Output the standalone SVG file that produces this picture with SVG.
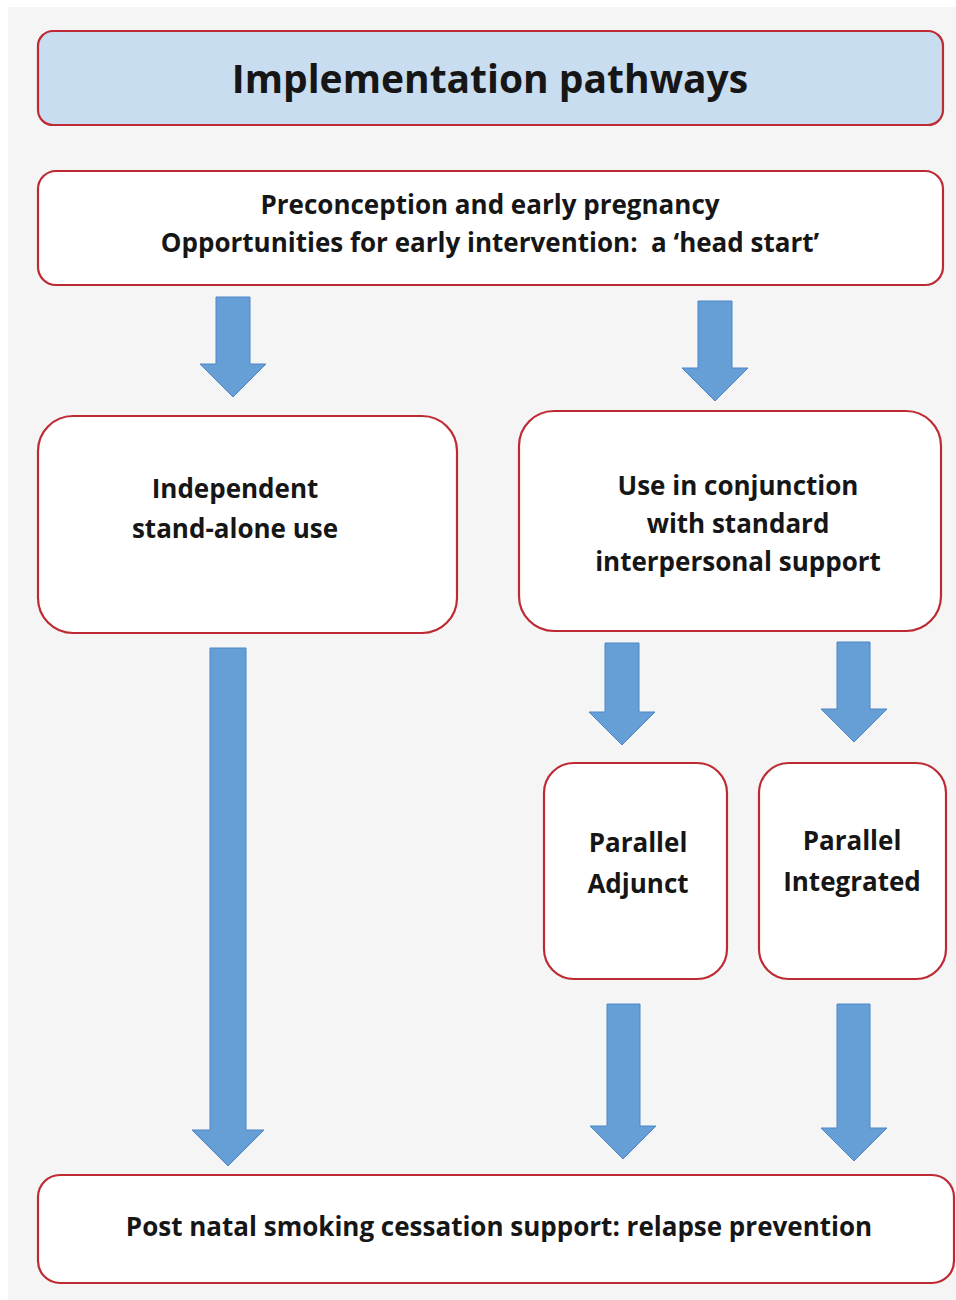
<svg xmlns="http://www.w3.org/2000/svg" width="956" height="1300" viewBox="0 0 956 1300">
<style>
.box{fill:#ffffff;stroke:#be2a33;stroke-width:2.2}
.title{fill:#c9ddf0;stroke:#be2a33;stroke-width:2.2}
.arrow{fill:#659fd6;stroke:#4f86c6;stroke-width:1}
text{font-family:"Open Sans","Liberation Sans",sans-serif;font-weight:bold;fill:#161616;text-anchor:middle;font-variant-ligatures:none;white-space:pre}
.t1{font-size:39px}
.t2{font-size:26px}
</style>
<rect x="0" y="0" width="956" height="1300" fill="#ffffff"/>
<rect x="8" y="7" width="948" height="1293" fill="#f5f5f5"/>
<g id="title">
<rect class="title" x="38" y="31" width="905" height="94" rx="15"/>
<text class="t1" x="490" y="93">Implementation pathways</text>
</g>
<g id="preconception">
<rect class="box" x="38" y="171" width="905" height="114" rx="18"/>
<text class="t2" x="490" y="214">Preconception and early pregnancy</text>
<text class="t2" x="490" y="252" xml:space="preserve">Opportunities for early intervention:  a ‘head start’</text>
</g>
<g id="independent">
<rect class="box" x="38" y="416" width="419" height="217" rx="35"/>
<text class="t2" x="235" y="498">Independent</text>
<text class="t2" x="235" y="538">stand-alone use</text>
</g>
<g id="conjunction">
<rect class="box" x="519" y="411" width="422" height="220" rx="35"/>
<text class="t2" x="738" y="495">Use in conjunction</text>
<text class="t2" x="738" y="533">with standard</text>
<text class="t2" x="738" y="571">interpersonal support</text>
</g>
<g id="adjunct">
<rect class="box" x="544" y="763" width="183" height="216" rx="30"/>
<text class="t2" x="638" y="852">Parallel</text>
<text class="t2" x="638" y="893">Adjunct</text>
</g>
<g id="integrated">
<rect class="box" x="759" y="763" width="187" height="216" rx="30"/>
<text class="t2" x="852" y="850">Parallel</text>
<text class="t2" x="852" y="891">Integrated</text>
</g>
<g id="postnatal">
<rect class="box" x="38" y="1175" width="916" height="108" rx="22"/>
<text class="t2" x="499" y="1236">Post natal smoking cessation support: relapse prevention</text>
</g>
<g id="connectors">
<polygon class="arrow" points="216,297 250,297 250,364 266,364 233,397 200,364 216,364"/>
<polygon class="arrow" points="698,301 732,301 732,368 748,368 715,401 682,368 698,368"/>
<polygon class="arrow" points="210,648 246,648 246,1130 264,1130 228,1166 192,1130 210,1130"/>
<polygon class="arrow" points="605,643 639,643 639,712 655,712 622,745 589,712 605,712"/>
<polygon class="arrow" points="837,642 870,642 870,709 887,709 854,742 821,709 837,709"/>
<polygon class="arrow" points="607,1004 640,1004 640,1126 656,1126 623,1159 590,1126 607,1126"/>
<polygon class="arrow" points="837,1004 870,1004 870,1128 887,1128 854,1161 821,1128 837,1128"/>
</g>
</svg>
